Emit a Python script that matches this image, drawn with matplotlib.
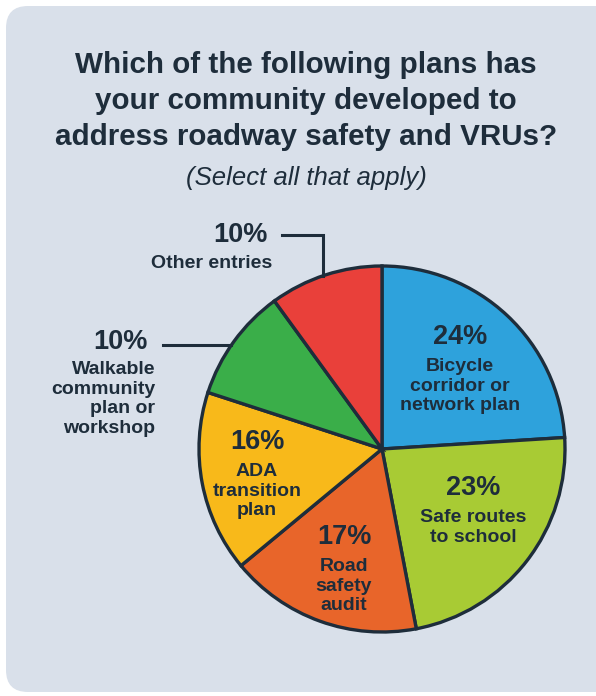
import numpy as np
import matplotlib.pyplot as plt
from matplotlib.patches import FancyBboxPatch

plt.rcParams['font.family'] = ['Liberation Sans', 'DejaVu Sans']

# survey results (share of responses, %)
labels = ['Bicycle\ncorridor or\nnetwork plan', 'Safe routes\nto school', 'Road\nsafety\naudit',
          'ADA\ntransition\nplan', 'Walkable\ncommunity\nplan or\nworkshop', 'Other entries']
values = [24, 23, 17, 16, 10, 10]
colors = ['#2ea2dc', '#a8cb34', '#e8652a', '#f8b91a', '#3aae49', '#e9403a']

title_lines = ['Which of the following plans has',
               'your community developed to',
               'address roadway safety and VRUs?']
subtitle = '(Select all that apply)'

W, H = 596, 696
ink = '#1e2d3b'
pct_fs, lab_fs, lab_ls = 19.5, 14, 1.2

fig = plt.figure(figsize=(W / 100, H / 100), dpi=100)
fig.patch.set_facecolor('white')
ax = fig.add_axes([0, 0, 1, 1])

# background card
card = FancyBboxPatch((6, 4), W + 30, H - 10, boxstyle='round,pad=0,rounding_size=22',
                      facecolor='#d9e0ea', edgecolor='none', zorder=0)
ax.add_patch(card)

# title block
for i, line in enumerate(title_lines):
    ax.text(306, H - (65 + 36 * i), line, ha='center', va='center',
            fontsize=21.3, fontweight='bold', color=ink)
ax.text(306, H - 178, subtitle, ha='center', va='center', fontsize=18.5,
        fontstyle='italic', color=ink)

# pie
cx, cy, r = 382, H - 449, 183
wedges, _ = ax.pie(values, colors=colors, startangle=90, counterclock=False,
                   center=(cx, cy), radius=r, frame=True,
                   wedgeprops=dict(edgecolor=ink, linewidth=2.4))
ax.set_xlim(0, W)
ax.set_ylim(0, H)
ax.set_aspect('equal')
ax.axis('off')

# labels inside the large slices (x, y in px from top-left)
inside = {0: (460, 337), 1: (473, 488), 2: (344, 537), 3: (257, 442)}
for i, (x, y) in inside.items():
    ax.text(x, H - y, f'{values[i]}%', ha='center', va='center',
            fontsize=pct_fs, fontweight='bold', color=ink)
    ax.text(x, H - y - 21, labels[i], ha='center', va='top',
            fontsize=lab_fs, fontweight='bold', color=ink, linespacing=lab_ls)

# outside labels with leader lines for the small slices
lx = 323
ly = cy + np.sqrt(r**2 - (lx - cx)**2)
ax.plot([282, lx, lx], [H - 235, H - 235, ly], color=ink, lw=2.2,
        solid_joinstyle='miter', zorder=3)
ax.text(240, H - 235, f'{values[5]}%', ha='center', va='center',
        fontsize=pct_fs, fontweight='bold', color=ink)
ax.text(212, H - 263, labels[5], ha='center', va='center',
        fontsize=lab_fs, fontweight='bold', color=ink)

wy = H - 345
wx = cx - np.sqrt(r**2 - (wy - cy)**2)
ax.plot([163, wx], [wy, wy], color=ink, lw=2.2, zorder=3)
ax.text(148, H - 342, f'{values[4]}%', ha='right', va='center',
        fontsize=pct_fs, fontweight='bold', color=ink)
ax.text(155, H - 361, labels[4], ha='right', va='top',
        fontsize=lab_fs, fontweight='bold', color=ink, linespacing=lab_ls)

fig.savefig('out.png', dpi=100, facecolor=fig.get_facecolor())
